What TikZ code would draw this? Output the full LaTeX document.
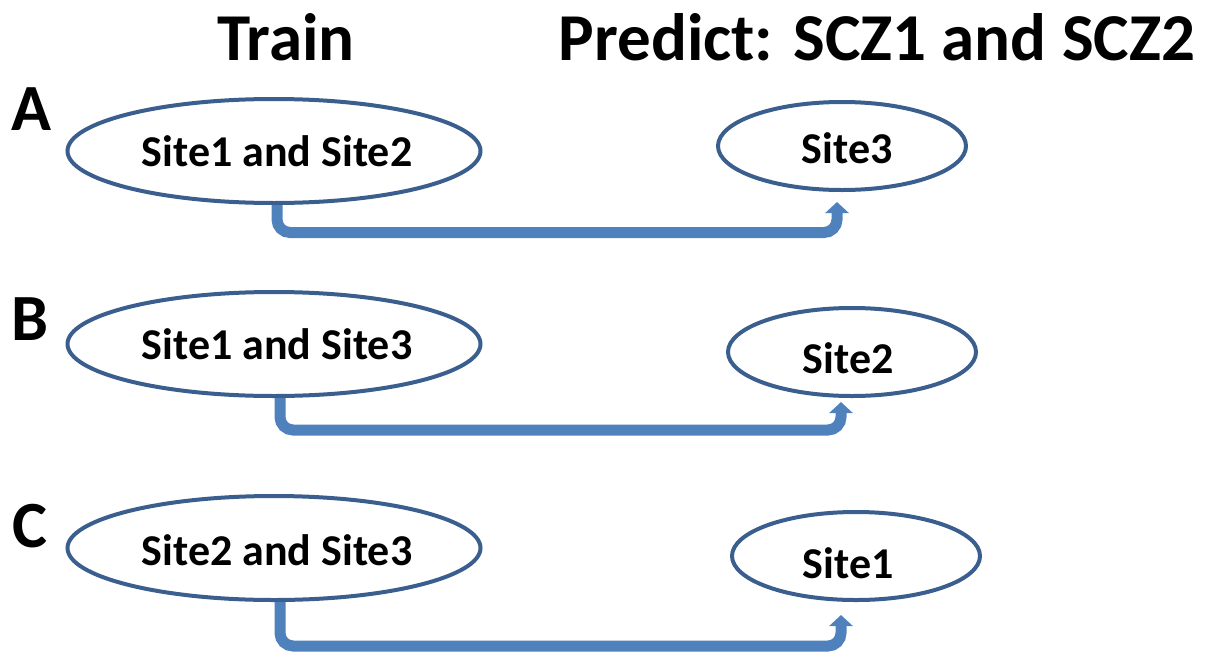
\documentclass[tikz,border=0pt]{standalone}
\usepackage{fontspec}
\setmainfont{Carlito}
\usetikzlibrary{shapes.geometric,arrows.meta}
\definecolor{ellblue}{HTML}{3A5E8E}
\definecolor{arrblue}{HTML}{4F81BD}
\tikzset{
  bigell/.style={ellipse,draw=ellblue,line width=4pt,minimum width=413pt,minimum height=104pt,inner sep=0pt},
  smallell/.style={ellipse,draw=ellblue,line width=4pt,minimum width=248pt,minimum height=88pt,inner sep=0pt},
  elltext/.style={font=\fontsize{44}{50}\selectfont\bfseries,inner sep=0pt,anchor=base},
  title/.style={font=\fontsize{67}{72}\selectfont\bfseries,inner sep=0pt,anchor=base},
  letter/.style={font=\fontsize{66}{72}\selectfont\bfseries,inner sep=0pt,anchor=base},
  flow/.style={draw=arrblue,line width=11pt,rounded corners=13pt,-{Triangle[width=23pt,length=11pt]}}
}
\begin{document}
\begin{tikzpicture}[x=1pt,y=-1pt]
\useasboundingbox (0,0) rectangle (1212,656);
\node[title] (train) at (286,60) {Train};
\node[title] (pred) at (877,60) {Predict: SCZ1 and SCZ2};
\node[letter] (la) at (31,130) {A};
\node[letter] (lb) at (30,340) {B};
\node[letter] (lc) at (30,547) {C};
% row A
\node[bigell] (a1) at (274,151) {};
\node[elltext] (a1t) at (277,166) {Site1 and Site2};
\node[smallell] (a2) at (842,146) {};
\node[elltext] (a2l) at (847,163) {Site3};
\coordinate (a2t) at (837,202);
\draw[flow] ([xshift=3pt]a1.south) -- ([xshift=3pt]a1.south |- 0,232.5) -- (a2t |- 0,232.5) -- (a2t);
% row B
\node[bigell] (b1) at (274,344) {};
\node[elltext] (b1t) at (277,359) {Site1 and Site3};
\node[smallell] (b2) at (852,352) {};
\node[elltext] (b2l) at (848,373) {Site2};
\coordinate (b2t) at (841,402);
\draw[flow] ([xshift=6pt]b1.south) -- ([xshift=6pt]b1.south |- 0,430) -- (b2t |- 0,430) -- (b2t);
% row C
\node[bigell] (c1) at (274,548) {};
\node[elltext] (c1t) at (277,565) {Site2 and Site3};
\node[smallell] (c2) at (856,556) {};
\node[elltext] (c2l) at (848,578) {Site1};
\coordinate (c2t) at (841,615);
\draw[flow] ([xshift=6pt]c1.south) -- ([xshift=6pt]c1.south |- 0,646) -- (c2t |- 0,646) -- (c2t);
\end{tikzpicture}
\end{document}
